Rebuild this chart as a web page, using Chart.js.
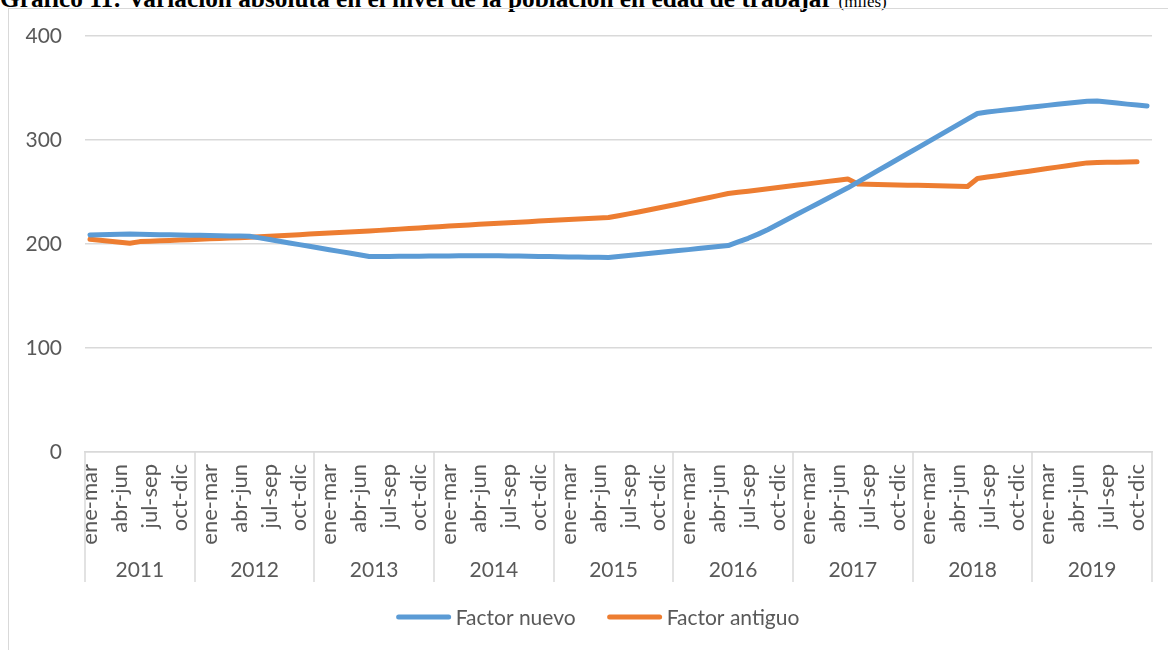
<!DOCTYPE html>
<html>
<head>
<meta charset="utf-8">
<script src="https://cdn.jsdelivr.net/npm/chart.js@4.4.1/dist/chart.umd.min.js"></script>
<style>
  html, body { margin: 0; padding: 0; background: #fff; overflow: hidden; }
  #wrap { position: relative; width: 1168px; height: 650px; }
  #title { position: absolute; left: 0; top: -14px; line-height: 24px; white-space: nowrap;
           font-family: "Liberation Serif", "Times New Roman", serif; font-size: 25.3px; font-weight: bold; color: #000; }
  #title span { font-weight: normal; font-size: 17px; }
  #frame { position: absolute; left: 8px; top: 8px; width: 1190px; height: 700px; border: 1px solid #d9d9d9; box-sizing: border-box; }
  canvas { position: absolute; left: 0; top: 0; }
</style>
</head>
<body>
<div id="wrap">
  <div id="title">Gráfico 11: Variación absoluta en el nivel de la población en edad de trabajar <span>(miles)</span></div>
  <div id="frame"></div>
  <canvas id="chart" width="1168" height="650" style="width:1168px;height:650px"></canvas>
</div>
<script>
// trimestres móviles, uno por mes (solo se rotula uno de cada tres)
const trimestres = ['ene-mar', 'feb-abr', 'mar-may', 'abr-jun', 'may-jul', 'jun-ago',
                    'jul-sep', 'ago-oct', 'sep-nov', 'oct-dic', 'nov-ene', 'dic-feb'];
const years = [2011, 2012, 2013, 2014, 2015, 2016, 2017, 2018, 2019];
const yTicks = [0, 100, 200, 300, 400];

const factorNuevo = [
  208.7, 208.9, 209.1, 209.3, 209.5,
  209.3, 209.2, 209.0, 208.8, 208.7, 208.5, 208.3, 208.2, 208.0, 207.8, 207.7, 207.5,
  205.9, 204.3, 202.6, 201.0, 199.4, 197.8, 196.1, 194.5, 192.9, 191.3, 189.6, 188.0,
  188.1, 188.1, 188.2, 188.3, 188.3, 188.4, 188.5, 188.5, 188.6, 188.7, 188.7, 188.8,
  188.6, 188.5, 188.4, 188.2, 188.1, 187.9, 187.8, 187.6, 187.5, 187.3, 187.2, 187.0,
  187.9, 188.9, 189.9, 190.8, 191.8, 192.7, 193.7, 194.6, 195.6, 196.6, 197.5, 198.5,
  202.0, 205.5, 209.5, 214.0, 219.0, 224.0, 229.0, 234.0, 239.0, 244.0, 249.0, 254.0,
  259.5, 265.0, 270.5, 276.0, 281.5, 287.0, 292.5, 298.0, 303.5, 309.0, 314.5, 320.0, 325.5,
  327.0, 328.0, 329.0, 330.0, 331.2, 332.3, 333.3, 334.3, 335.3, 336.3, 337.2, 337.5,
  336.5, 335.5, 334.5, 333.6, 332.7
];

const factorAntiguo = [
  204.5, 203.6, 202.7, 201.7, 200.8,
  202.3,
  202.7, 203.1, 203.4, 203.8, 204.2, 204.6, 205.0, 205.4, 205.7, 206.1, 206.5,
  207.0, 207.5, 208.0, 208.5, 209.0, 209.5, 210.0, 210.5, 211.0, 211.5, 212.0, 212.5,
  213.1, 213.7, 214.3, 214.8, 215.4, 216.0, 216.6, 217.2, 217.8, 218.3, 218.9, 219.5,
  220.0, 220.5, 221.0, 221.5, 222.0, 222.5, 223.0, 223.5, 224.0, 224.5, 225.0, 225.5,
  227.2, 229.0, 230.8, 232.7, 234.6, 236.5, 238.5, 240.5, 242.5, 244.5, 246.5, 248.5,
  249.7, 250.8, 252.0, 253.2, 254.3, 255.5, 256.7, 257.8, 259.0, 260.2, 261.3, 262.5,
  257.7,
  257.5, 257.3, 257.0, 256.8, 256.6, 256.4, 256.2, 256.0, 255.8, 255.5, 255.3,
  263.0,
  264.4, 265.7, 267.1, 268.5, 269.8, 271.2, 272.5, 273.9, 275.3, 276.6, 278.0,
  278.3, 278.5, 278.7, 278.9, 279.0,
  null
];

const BLUE = '#5b9bd5';
const ORANGE = '#ed7d31';
const TEXT = '#595959';
const GRID = '#d9d9d9';
const FONT = 'Lato';

const labels = factorNuevo.map((_, i) => trimestres[i % 12]);

// segunda fila del eje: años con separadores
const yearAxis = {
  id: 'yearAxis',
  afterDraw(chart) {
    const { ctx, chartArea, scales: { x } } = chart;
    const top = chartArea.bottom;
    const bottom = top + 130;
    const half = (x.getPixelForValue(1) - x.getPixelForValue(0)) / 2;
    ctx.save();
    ctx.strokeStyle = GRID;
    ctx.lineWidth = 1.5;
    ctx.fillStyle = TEXT;
    ctx.font = '21px ' + FONT;
    ctx.textAlign = 'center';
    ctx.textBaseline = 'middle';
    years.forEach((yr, k) => {
      const first = k === 0 ? 0 : 12 * k - 1;
      const last = Math.min(12 * k + 10, labels.length - 1);
      const x0 = k === 0 ? chartArea.left : x.getPixelForValue(first) - half;
      const x1 = k === years.length - 1 ? chartArea.right : x.getPixelForValue(last) + half;
      ctx.beginPath();
      ctx.moveTo(Math.round(x0), top);
      ctx.lineTo(Math.round(x0), bottom);
      if (k === years.length - 1) {
        ctx.moveTo(Math.round(x1), top);
        ctx.lineTo(Math.round(x1), bottom);
      }
      ctx.stroke();
      ctx.fillText(String(yr), (x0 + x1) / 2, top + 118);
    });
    ctx.restore();
  }
};

// leyenda con trazo de línea
const lineLegend = {
  id: 'lineLegend',
  afterDraw(chart) {
    const { ctx } = chart;
    const items = chart.data.datasets.map(d => ({ text: d.label, color: d.borderColor }));
    const lineLen = 54, gap = 5, spacing = 32, y = 617;
    ctx.save();
    ctx.font = '21px ' + FONT;
    const widths = items.map(it => lineLen + gap + ctx.measureText(it.text).width);
    const total = widths.reduce((a, b) => a + b, 0) + spacing * (items.length - 1);
    let cx = 598 - total / 2;
    items.forEach((it, i) => {
      ctx.strokeStyle = it.color;
      ctx.lineWidth = 5;
      ctx.lineCap = 'round';
      ctx.beginPath();
      ctx.moveTo(cx + 2, y);
      ctx.lineTo(cx + lineLen - 2, y);
      ctx.stroke();
      ctx.fillStyle = TEXT;
      ctx.textAlign = 'left';
      ctx.textBaseline = 'middle';
      ctx.fillText(it.text, cx + lineLen + gap, y + 1);
      cx += widths[i] + spacing;
    });
    ctx.restore();
  }
};

new Chart(document.getElementById('chart'), {
  type: 'line',
  data: {
    labels: labels,
    datasets: [
      { label: 'Factor nuevo', data: factorNuevo, borderColor: BLUE, backgroundColor: BLUE },
      { label: 'Factor antiguo', data: factorAntiguo, borderColor: ORANGE, backgroundColor: ORANGE }
    ]
  },
  options: {
    responsive: false,
    animation: false,
    layout: { padding: { top: 36, right: 16, bottom: 68, left: 0 } },
    elements: {
      point: { radius: 0 },
      line: { borderWidth: 5, tension: 0, borderCapStyle: 'round', borderJoinStyle: 'round' }
    },
    plugins: { legend: { display: false }, tooltip: { enabled: false } },
    scales: {
      x: {
        type: 'category',
        offset: true,
        grid: { display: false, drawTicks: false },
        border: { display: true, color: GRID, width: 1.5 },
        ticks: {
          autoSkip: false,
          minRotation: 90,
          maxRotation: 90,
          padding: 12,
          color: TEXT,
          font: { family: FONT, size: 22 },
          callback: (v, i) => (i % 3 === 0 ? labels[i] : '')
        },
        afterFit: s => { s.height = 130; s.paddingLeft = 0; s.paddingRight = 0; }
      },
      y: {
        min: yTicks[0],
        max: yTicks[yTicks.length - 1],
        afterBuildTicks: s => { s.ticks = yTicks.map(v => ({ value: v })); },
        grid: { color: GRID, lineWidth: 1.5, drawTicks: false },
        border: { display: false },
        ticks: { padding: 23, color: TEXT, font: { family: FONT, size: 21 } },
        afterFit: s => { s.width = 85; }
      }
    }
  },
  plugins: [yearAxis, lineLegend]
});
</script>
</body>
</html>
